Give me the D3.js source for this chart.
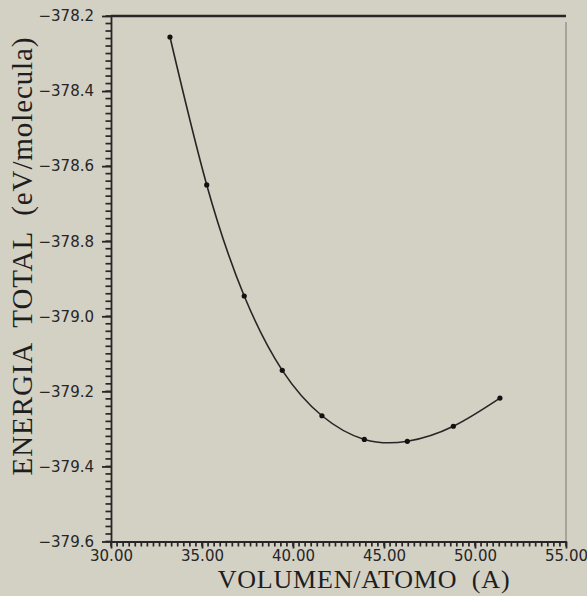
<!DOCTYPE html>
<html>
<head>
<meta charset="utf-8">
<script src="https://cdn.jsdelivr.net/npm/d3@7"></script>
<style>
  body { margin: 0; background: #d3d0c4; }
  svg { display: block; }
</style>
</head>
<body>
<svg id="drawing_region"></svg>
<script>
// volume per atom (A^3) and total energy (eV/molecule)
const volumen = [33.24, 35.26, 37.32, 39.41, 41.59, 43.92, 46.28, 48.81, 51.37];
const energia = [-378.256, -378.650, -378.946, -379.144, -379.265, -379.328, -379.333, -379.293, -379.218];
const xTicks = [30, 35, 40, 45, 50, 55];
const yTicks = [-378.2, -378.4, -378.6, -378.8, -379.0, -379.2, -379.4, -379.6];

const config = {
    width: 587,
    height: 596,
    margin: {top: 16, right: 21, bottom: 54.5, left: 111},
    ink: '#262626'
};

const data = volumen.map((v, i) => ({x: v, y: energia[i]}));

const svg = d3.select('#drawing_region')
    .attr('width', config.width)
    .attr('height', config.height);

const inner_width = config.width - config.margin.left - config.margin.right;
const inner_height = config.height - config.margin.top - config.margin.bottom;

const chart = svg.append('g')
    .attr('transform', `translate(${config.margin.left}, ${config.margin.top})`);

const xscale = d3.scaleLinear().domain([30, 55]).range([0, inner_width]);
const yscale = d3.scaleLinear().domain([-378.2, -379.6]).range([0, inner_height]);

// minor ticks: x every 1/3, y every 0.02
const xMinor = d3.range(0, 76).map(i => 30 + i / 3);
const yMinor = d3.range(0, 71).map(i => -378.2 - i * 0.02);

function styleAxis(g) {
    g.selectAll('path').attr('stroke', config.ink).attr('stroke-width', 1.8);
    g.selectAll('line').attr('stroke', config.ink).attr('stroke-width', 1.8);
    g.selectAll('text')
        .attr('fill', config.ink)
        .attr('font-family', 'DejaVu Sans')
        .attr('font-size', 15);
}

// top and right frame
chart.append('line')
    .attr('x1', 0).attr('x2', inner_width)
    .attr('y1', 0).attr('y2', 0)
    .attr('stroke', config.ink)
    .attr('stroke-width', 2.4);

chart.append('line')
    .attr('x1', inner_width).attr('x2', inner_width)
    .attr('y1', 6).attr('y2', inner_height)
    .attr('stroke', '#7a7872')
    .attr('stroke-width', 1);

// minor ticks
chart.append('g').selectAll('line')
    .data(xMinor)
    .join('line')
    .attr('x1', d => xscale(d)).attr('x2', d => xscale(d))
    .attr('y1', inner_height).attr('y2', inner_height + 5)
    .attr('stroke', config.ink)
    .attr('stroke-width', 1.7);

chart.append('g').selectAll('line')
    .data(yMinor)
    .join('line')
    .attr('x1', -5.5).attr('x2', 0)
    .attr('y1', d => yscale(d)).attr('y2', d => yscale(d))
    .attr('stroke', config.ink)
    .attr('stroke-width', 1.7);

// major axes
chart.append('g')
    .attr('transform', `translate(0, ${inner_height})`)
    .call(d3.axisBottom(xscale).tickValues(xTicks).tickSize(7).tickPadding(2)
        .tickFormat(d3.format('.2f')).tickSizeOuter(0))
    .call(styleAxis);

chart.append('g')
    .call(d3.axisLeft(yscale).tickValues(yTicks).tickSize(9).tickPadding(8)
        .tickFormat(d3.format('.1f')).tickSizeOuter(0))
    .call(styleAxis);

// fitted curve and points
const line = d3.line()
    .x(d => xscale(d.x))
    .y(d => yscale(d.y))
    .curve(d3.curveNatural);

chart.append('path')
    .datum(data)
    .attr('d', line)
    .attr('fill', 'none')
    .attr('stroke', config.ink)
    .attr('stroke-width', 1.6);

chart.selectAll('circle')
    .data(data)
    .join('circle')
    .attr('cx', d => xscale(d.x))
    .attr('cy', d => yscale(d.y))
    .attr('r', 2.6)
    .attr('fill', '#111');

// axis titles
svg.append('text')
    .attr('text-anchor', 'middle')
    .attr('x', 364)
    .attr('y', 588)
    .attr('font-family', 'Liberation Serif')
    .attr('font-size', 26)
    .attr('letter-spacing', 0.8)
    .attr('fill', '#1e1e1e')
    .style('white-space', 'pre')
    .text('VOLUMEN/ATOMO  (A)');

svg.append('text')
    .attr('text-anchor', 'middle')
    .attr('transform', 'translate(32, 256) rotate(-90)')
    .attr('font-family', 'Liberation Serif')
    .attr('font-size', 29)
    .attr('letter-spacing', 0.9)
    .attr('fill', '#1e1e1e')
    .style('white-space', 'pre')
    .text('ENERGIA  TOTAL  (eV/molecula)');
</script>
</body>
</html>
